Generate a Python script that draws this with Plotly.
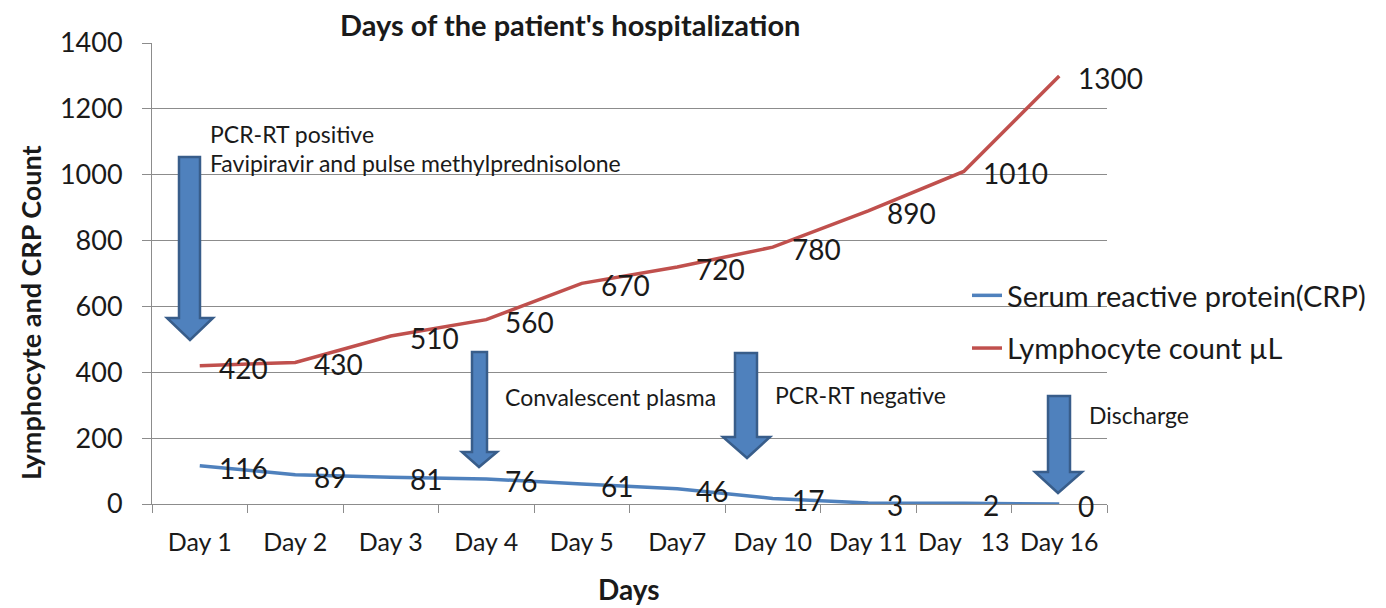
import plotly.graph_objects as go

# ---------------- data ----------------
categories = ["Day 1", "Day 2", "Day 3", "Day 4", "Day 5", "Day7", "Day 10", "Day 11", "Day 13", "Day 16"]
tick_labels = ["Day 1", "Day 2", "Day 3", "Day 4", "Day 5", "Day7", "Day 10", "Day 11", "Day\u00a0\u00a0\u00a013", "Day 16"]
crp_values = [116, 89, 81, 76, 61, 46, 17, 3, 2, 0]
lymph_values = [420, 430, 510, 560, 670, 720, 780, 890, 1010, 1300]
crp_name = "Serum reactive protein(CRP)"
lymph_name = "Lymphocyte count \u00b5L"

# events: (label lines, arrow geometry in screen px)
events = [
    {"texts": [("PCR-RT positive", 208, 134), ("Favipiravir and pulse methylprednisolone", 208, 163)],
     "arrow": (179, 200, 157, 318, 167, 213, 190, 340)},
    {"texts": [("Convalescent plasma", 503, 397)],
     "arrow": (472, 487, 352, 452, 462, 497, 479, 467)},
    {"texts": [("PCR-RT negative", 773, 395)],
     "arrow": (735, 757, 353, 437, 723, 770, 747, 458)},
    {"texts": [("Discharge", 1087, 415)],
     "arrow": (1048, 1070, 396, 472, 1035, 1082, 1058, 493)},
]

# ---------------- layout constants (screen px) ----------------
SW, SH = 1386, 608
OFF = 8  # page body margin
W, H = SW - OFF, SH - OFF
L, R, T, B = 152, 1107, 43, 504
FONT = "Lato"
TXT = "#1a1a1a"
BLUE = "#4F81BD"
RED = "#C0504D"
GRID = "#8c8c8c"


def px(xp):
    return (xp - L) / (R - L)


def py(yp):
    return (B - yp) / (B - T)


fig = go.Figure()
fig.add_trace(go.Scatter(x=categories, y=crp_values, mode="lines", name=crp_name,
                         legendgroup="crp", line=dict(color=BLUE, width=3.5)))
fig.add_trace(go.Scatter(x=categories, y=lymph_values, mode="lines", name=lymph_name,
                         legendgroup="lym", line=dict(color=RED, width=3.5)))

annotations = []
# data labels
for vals in (crp_values, lymph_values):
    for c, v in zip(categories, vals):
        annotations.append(dict(x=c, y=v, xref="x", yref="y", text=str(v), showarrow=False,
                                xanchor="left", yanchor="middle", xshift=17, yshift=-2,
                                font=dict(family=FONT, size=28, color=TXT)))

shapes = []
for ev in events:
    for t, xx, yy in ev["texts"]:
        annotations.append(dict(x=px(xx), y=py(yy), xref="paper", yref="paper", text=t,
                                showarrow=False, xanchor="left", yanchor="middle",
                                font=dict(family=FONT, size=23, color=TXT)))
    s0, s1, top, hy, h0, h1, tx, ty = ev["arrow"]
    pts = [(s0, top), (s1, top), (s1, hy), (h1, hy), (tx, ty), (h0, hy), (s0, hy)]
    path = "M " + " L ".join(f"{px(a):.5f},{py(b):.5f}" for a, b in pts) + " Z"
    shapes.append(dict(type="path", path=path, xref="paper", yref="paper",
                       fillcolor=BLUE, line=dict(color="#385D8A", width=2.5), layer="above"))

# titles
annotations.append(dict(x=px(570), y=py(24), xref="paper", yref="paper",
                        text="<b>Days of the patient's hospitalization</b>", showarrow=False,
                        xanchor="center", yanchor="middle", font=dict(family=FONT, size=29, color=TXT)))
annotations.append(dict(x=px(30), y=py(313), xref="paper", yref="paper", textangle=-90,
                        text="<b>Lymphocyte and CRP Count</b>", showarrow=False,
                        xanchor="center", yanchor="middle", font=dict(family=FONT, size=27, color=TXT)))
annotations.append(dict(x=px(629), y=py(589), xref="paper", yref="paper",
                        text="<b>Days</b>", showarrow=False,
                        xanchor="center", yanchor="middle", font=dict(family=FONT, size=28, color=TXT)))

fig.update_layout(
    width=W, height=H,
    margin=dict(l=L - OFF, r=SW - R, t=T - OFF, b=SH - B, autoexpand=False),
    paper_bgcolor="white", plot_bgcolor="white",
    showlegend=True,
    legend=dict(x=px(967), y=py(270), xanchor="left", yanchor="top",
                font=dict(family=FONT, size=29, color=TXT), tracegroupgap=12,
                bgcolor="rgba(0,0,0,0)"),
    annotations=annotations,
    shapes=shapes,
)
fig.update_xaxes(type="category", categoryorder="array", categoryarray=categories,
                 tickvals=categories, ticktext=tick_labels, tickangle=0,
                 range=[-0.5, len(categories) - 0.5],
                 showgrid=False, showline=True, linecolor=GRID, linewidth=1,
                 ticks="outside", tickson="boundaries", ticklen=8, tickcolor=GRID,
                 ticklabelstandoff=16,
                 tickfont=dict(family=FONT, size=25, color=TXT), zeroline=False)
fig.update_yaxes(range=[0, 1400], dtick=200, showgrid=True, gridcolor=GRID, gridwidth=1,
                 showline=True, linecolor=GRID, linewidth=1, ticks="outside", ticklen=9,
                 tickcolor=GRID, ticklabelstandoff=14,
                 tickfont=dict(family=FONT, size=27, color=TXT), zeroline=False)

fig.write_html("out.html")
